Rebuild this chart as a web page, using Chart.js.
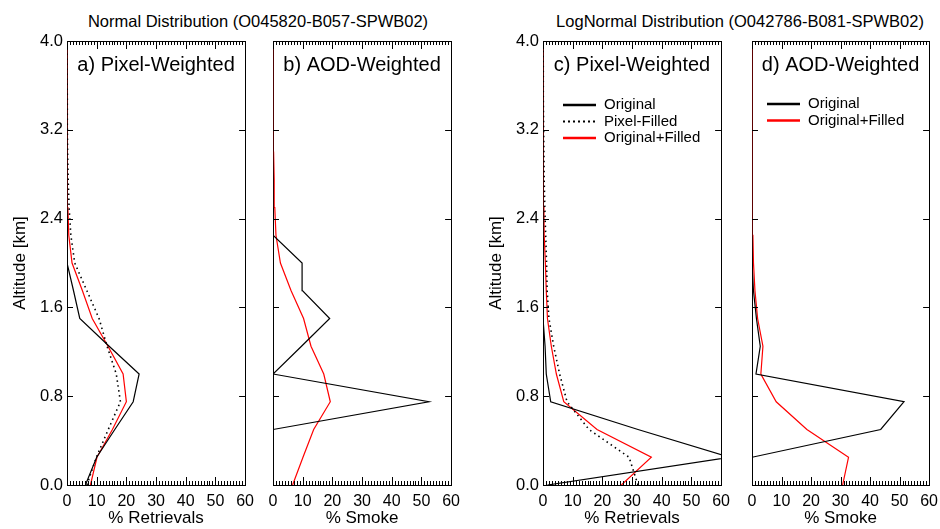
<!DOCTYPE html>
<html>
<head>
<meta charset="utf-8">
<script src="https://cdn.jsdelivr.net/npm/chart.js@4.4.1/dist/chart.umd.min.js"></script>
<style>
  body{margin:0;background:#fff;}
  #fig{position:relative;width:940px;height:529px;overflow:hidden;font-family:'Liberation Sans',Arial,sans-serif;color:#000;}
  #fig canvas{position:absolute;top:0;}
  .ttl{position:absolute;top:12px;font-size:16.5px;line-height:18px;white-space:nowrap;transform:translateX(-50%);}
</style>
</head>
<body>
<div id="fig">
  <div class="ttl" style="left:258px">Normal Distribution (O045820-B057-SPWB02)</div>
  <div class="ttl" style="left:740px">LogNormal Distribution (O042786-B081-SPWB02)</div>
  <canvas id="panelA" width="254" height="529" style="left:7px"></canvas>
  <canvas id="panelB" width="254" height="529" style="left:213px"></canvas>
  <canvas id="panelC" width="254" height="529" style="left:483px"></canvas>
  <canvas id="panelD" width="253" height="529" style="left:692px"></canvas>
</div>
<script>
// altitude levels (km), bottom to top
const altitude = [0, 0.25, 0.5, 0.75, 1.0, 1.25, 1.5, 1.75, 2.0, 2.25, 2.5, 2.75, 3.0, 3.25, 3.5, 3.75, 4.0];

// tick values
const xTickValues = [0, 10, 20, 30, 40, 50, 60];
const xMinorStep = 1;
const yTickValues = [0, 0.8, 1.6, 2.4, 3.2, 4.0];

// a) Normal, pixel-weighted (% retrievals)
const normPixelOriginal = [6.2, 10, 16.1, 22.3, 24.3, 14.2, 4.3, 2.2, 0, 0, 0, 0, 0, 0, 0, 0, 0];
const normPixelFilled   = [6.7, 9.9, 13.9, 18, 16.6, 13.5, 10.8, 6.7, 2.6, 1.3, 0.7, 0.4, 0.2, 0.1, 0.1, 0, 0];
const normPixelCombined = [7.9, 10.1, 15.3, 20, 18.9, 13.8, 8.5, 5.2, 1.7, 0.6, 0.3, 0.2, 0.1, 0.05, 0, 0, 0];

// b) Normal, AOD-weighted (% smoke)
const normAodOriginal = [0, 0, 0, 52.5, 0, 9.6, 19.1, 10, 9.8, 0, 0, 0, 0, 0, 0, 0, 0];
const normAodCombined = [6.6, 10.1, 13.7, 19.3, 17.1, 12.8, 10.3, 6.1, 2.5, 1.0, 0.6, 0.4, 0.2, 0.1, 0.1, 0, 0];

// c) LogNormal, pixel-weighted (% retrievals)
const logPixelOriginal = [1.5, 63, 32, 2.6, 1.1, 0.7, 0, 0, 0, 0, 0, 0, 0, 0, 0, 0, 0];
const logPixelFilled   = [32, 29, 15.5, 8.1, 5.6, 3.6, 2.0, 1.4, 1.2, 0.9, 0.6, 0.4, 0.3, 0.2, 0.1, 0.1, 0];
const logPixelCombined = [26.4, 36.5, 18.2, 7, 4.5, 2.8, 1.5, 1.1, 0.8, 0.4, 0.3, 0.2, 0.1, 0.1, 0, 0, 0];

// d) LogNormal, AOD-weighted (% smoke)
const logAodOriginal = [0, 0, 43.6, 51.5, 1.35, 2.8, 1.5, 0.5, 0, 0, 0, 0, 0, 0, 0, 0, 0];
const logAodCombined = [30.7, 32.7, 18.6, 8.2, 3.0, 3.7, 1.9, 1.0, 0.5, 0.3, 0.3, 0.2, 0.1, 0.1, 0, 0, 0];

Chart.defaults.font.family = "'Liberation Sans', Arial, sans-serif";
Chart.defaults.color = '#000';

const BLACK = { borderColor: '#000', borderWidth: 1.2 };
const DOTTED = { borderColor: '#000', borderWidth: 1.6, borderDash: [1.5, 3.5] };
const RED = { borderColor: '#ff0000', borderWidth: 1.2 };

function series(label, values, style){
  return Object.assign({
    label: label,
    data: values.map((v, i) => ({ x: v, y: altitude[i] })),
    showLine: true, pointRadius: 0, tension: 0, fill: false
  }, style);
}

// IDL-like box with inward ticks (major + minor on x, major on y)
const idlFrame = {
  id: 'idlFrame',
  beforeDatasetsDraw(chart){
    const ctx = chart.ctx, a = chart.chartArea;
    ctx.save();
    ctx.strokeStyle = '#000';
    ctx.lineWidth = 1;
    ctx.strokeRect(Math.round(a.left) + 0.5, Math.round(a.top) + 0.5, Math.round(a.right - a.left), Math.round(a.bottom - a.top));
    ctx.restore();
  },
  afterDatasetsDraw(chart){
    const ctx = chart.ctx, a = chart.chartArea;
    const x = chart.scales.x, y = chart.scales.y;
    ctx.save();
    ctx.strokeStyle = '#000';
    ctx.lineWidth = 1;
    ctx.beginPath();
    for (let v = xTickValues[0]; v <= xTickValues[xTickValues.length - 1]; v += xMinorStep) {
      const px = Math.round(x.getPixelForValue(v)) + 0.5;
      const len = v % 10 === 0 ? 8 : 4;
      ctx.moveTo(px, a.bottom); ctx.lineTo(px, a.bottom - len);
      ctx.moveTo(px, a.top); ctx.lineTo(px, a.top + len);
    }
    yTickValues.forEach(v => {
      const py = Math.round(y.getPixelForValue(v)) + 0.5;
      ctx.moveTo(a.left, py); ctx.lineTo(a.left + 6, py);
      ctx.moveTo(a.right, py); ctx.lineTo(a.right - 6, py);
    });
    ctx.stroke();
    ctx.restore();
  }
};

function panelText(label, legend){
  return {
    id: 'panelText',
    afterDraw(chart){
      const { ctx, chartArea: a } = chart;
      ctx.save();
      ctx.fillStyle = '#000';
      ctx.font = "20px 'Liberation Sans', Arial, sans-serif";
      ctx.textAlign = 'center';
      ctx.textBaseline = 'middle';
      ctx.fillText(label, (a.left + a.right) / 2, a.top + 24);
      if (legend) {
        ctx.font = "15px 'Liberation Sans', Arial, sans-serif";
        ctx.textAlign = 'left';
        chart.data.datasets.forEach((ds, i) => {
          const yy = a.top + legend.top + i * 16.5;
          ctx.save();
          ctx.strokeStyle = ds.borderColor;
          ctx.lineWidth = ds.borderDash ? 2 : 2.5;
          ctx.setLineDash(ds.borderDash ? [2, 3] : []);
          ctx.beginPath();
          ctx.moveTo(a.left + legend.left, yy);
          ctx.lineTo(a.left + legend.left + 33, yy);
          ctx.stroke();
          ctx.restore();
          ctx.fillText(ds.label, a.left + legend.left + 41, yy);
        });
      }
      ctx.restore();
    }
  };
}

function makePanel(id, cfg){
  new Chart(document.getElementById(id), {
    type: 'scatter',
    data: { datasets: cfg.datasets },
    plugins: [idlFrame, panelText(cfg.label, cfg.legend)],
    options: {
      responsive: false,
      animation: false,
      layout: { padding: { top: 41, right: 12, left: 0, bottom: 0 } },
      plugins: { legend: { display: false }, tooltip: { enabled: false } },
      scales: {
        x: {
          type: 'linear', min: 0, max: 60,
          afterBuildTicks: s => { s.ticks = xTickValues.map(v => ({ value: v })); },
          grid: { display: false, drawTicks: false },
          border: { display: false },
          ticks: { padding: 7, font: { size: 16 }, color: '#000', maxRotation: 0, autoSkip: false },
          title: { display: true, text: cfg.xTitle, font: { size: 17 }, color: '#000', padding: { top: 0, bottom: 0 } },
          afterFit: s => { s.height = 44; }
        },
        y: {
          type: 'linear', min: 0, max: 4,
          afterBuildTicks: s => { s.ticks = yTickValues.map(v => ({ value: v })); },
          grid: { display: false, drawTicks: false },
          border: { display: false },
          ticks: { display: cfg.yLabels, padding: 4, font: { size: 16.5 }, color: '#000', callback: v => v.toFixed(1) },
          title: { display: cfg.yLabels, text: 'Altitude [km]', font: { size: 17 }, color: '#000', padding: { top: 3, bottom: 0 } },
          afterFit: s => { s.width = 60; }
        }
      }
    }
  });
}

makePanel('panelA', {
  label: 'a) Pixel-Weighted', xTitle: '% Retrievals', yLabels: true,
  datasets: [
    series('Original', normPixelOriginal, BLACK),
    series('Pixel-Filled', normPixelFilled, DOTTED),
    series('Original+Filled', normPixelCombined, RED)
  ]
});
makePanel('panelB', {
  label: 'b) AOD-Weighted', xTitle: '% Smoke', yLabels: false,
  datasets: [
    series('Original', normAodOriginal, BLACK),
    series('Original+Filled', normAodCombined, RED)
  ]
});
makePanel('panelC', {
  label: 'c) Pixel-Weighted', xTitle: '% Retrievals', yLabels: true,
  legend: { left: 20, top: 64 },
  datasets: [
    series('Original', logPixelOriginal, BLACK),
    series('Pixel-Filled', logPixelFilled, DOTTED),
    series('Original+Filled', logPixelCombined, RED)
  ]
});
makePanel('panelD', {
  label: 'd) AOD-Weighted', xTitle: '% Smoke', yLabels: false,
  legend: { left: 15, top: 63 },
  datasets: [
    series('Original', logAodOriginal, BLACK),
    series('Original+Filled', logAodCombined, RED)
  ]
});
</script>
</body>
</html>
